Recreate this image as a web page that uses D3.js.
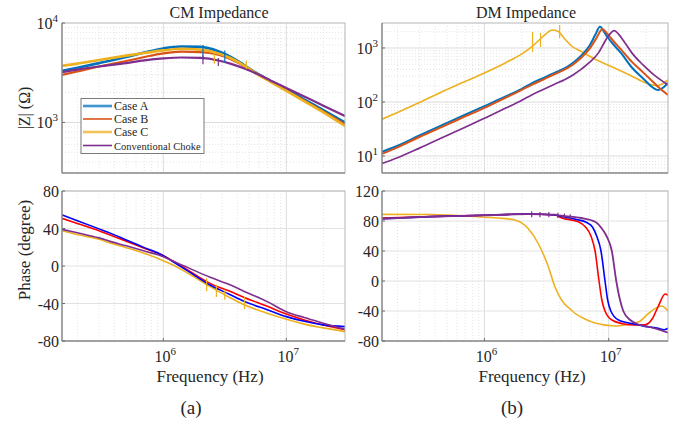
<!DOCTYPE html>
<html>
<head>
<meta charset="utf-8">
<script src="https://cdn.jsdelivr.net/npm/d3@7"></script>
<style>
body { margin: 0; background: #fff; }
svg text { fill: #262626; }
</style>
</head>
<body>
<svg id="chart" width="686" height="424" font-family="'Liberation Serif', Tinos, 'Times New Roman', 'DejaVu Serif', serif"></svg>
<script>
// ---- data ----
var seriesNames = ["Case A", "Case B", "Case C", "Conventional Choke"];

// CM impedance magnitude (ohm)
var cmFreq = [1.5e5, 2e5, 3e5, 5e5, 7e5, 1e6, 1.4e6, 2e6, 2.8e6, 3.5e6, 4.5e6, 5.7e6, 7.5e6, 1e7, 1.4e7, 2e7, 3e7];
var cmZA = [3300, 3550, 3950, 4550, 5050, 5550, 5800, 5750, 5200, 4600, 3800, 3150, 2600, 2150, 1700, 1330, 1000];
var cmZB = [3000, 3250, 3650, 4150, 4550, 4950, 5150, 5100, 4800, 4350, 3700, 3100, 2570, 2100, 1660, 1290, 960];
var cmZC = [3700, 3900, 4250, 4700, 5000, 5300, 5500, 5400, 4950, 4450, 3750, 3100, 2550, 2080, 1630, 1260, 920];
var cmZConv = [3200, 3400, 3650, 3950, 4200, 4400, 4500, 4450, 4200, 3900, 3500, 3100, 2630, 2220, 1820, 1475, 1160];
// measurement noise spikes (freq, low, high)
var cmSpkAFreq = [2.1e6, 3.16e6], cmSpkALo = [4300, 4000], cmSpkAHi = [6000, 5300];
var cmSpkCFreq = [2.6e6, 4.73e6], cmSpkCLo = [3900, 3450], cmSpkCHi = [5100, 4200];
var cmSpkConvFreq = [2.1e6, 2.8e6], cmSpkConvLo = [3850, 3700], cmSpkConvHi = [4750, 4450];

// CM phase (degree)
var cmPhFreq = [1.5e5, 2e5, 3e5, 3.74e5, 5e5, 7e5, 1e6, 1.2e6, 1.6e6, 2.4e6, 3.4e6, 4.6e6, 7e6, 1e7, 1.4e7, 2e7, 3e7];
var cmPA = [54.4, 48.3, 39.6, 34.8, 27.7, 19.6, 11, 4.5, -5.7, -20.3, -29.8, -38, -46.6, -54, -59, -62.8, -64.7];
var cmPB = [50.9, 45.3, 37.5, 32.7, 26.5, 19, 11, 5.3, -4.7, -18.5, -26.5, -33.8, -43, -51.2, -57.5, -63, -68];
var cmPC = [37.7, 33.5, 28.5, 24.2, 19.5, 13.5, 5.7, 1, -8, -22, -33, -41.6, -50.5, -56.9, -62, -66, -70];
var cmPConv = [39.1, 35.5, 30, 26, 21.5, 16, 9.9, 5, -2, -12, -19.5, -27.4, -38, -48.7, -55, -61, -67.6];
var cmPhSpkCFreq = [2.25e6, 2.7e6, 3.16e6, 4.57e6], cmPhSpkCLo = [-27, -33, -36, -46], cmPhSpkCHi = [-13, -20, -25, -33];

// DM impedance magnitude (ohm)
var dmFreqA = [1.5e5, 2e5, 3e5, 5e5, 7e5, 1e6, 1.5e6, 2e6, 2.4e6, 3e6, 3.7e6, 4.45e6, 5.2e6, 6e6, 7e6, 7.8e6, 8.5e6, 9.5e6, 1.06e7, 1.25e7, 1.53e7, 1.9e7, 2.2e7, 2.5e7, 2.75e7, 3e7];
var dmZA = [12, 15.5, 24, 41, 58, 84, 128, 175, 222, 280, 350, 425, 540, 720, 1100, 1750, 2480, 1750, 1250, 820, 440, 270, 195, 167, 185, 228];
var dmFreqB = [1.5e5, 2e5, 3e5, 5e5, 7e5, 1e6, 1.5e6, 2e6, 2.4e6, 3e6, 3.7e6, 4.45e6, 5.2e6, 6e6, 7e6, 8e6, 8.9e6, 9.6e6, 1.06e7, 1.25e7, 1.53e7, 1.9e7, 2.3e7, 2.6e7, 3e7];
var dmZB = [11, 14.5, 22.5, 38, 54, 78, 122, 168, 208, 262, 330, 400, 500, 660, 960, 1550, 2250, 1900, 1450, 950, 560, 350, 230, 175, 135];
var dmFreqC = [1.5e5, 2e5, 3e5, 5e5, 7e5, 1e6, 1.5e6, 2e6, 2.4e6, 2.8e6, 3.2e6, 3.5e6, 3.9e6, 4.45e6, 5e6, 6.05e6, 8e6, 1.06e7, 1.5e7, 2e7, 2.44e7, 2.7e7, 3e7];
var dmZC = [48, 64, 98, 170, 240, 345, 540, 780, 1050, 1450, 1900, 2150, 2050, 1450, 1100, 855, 600, 450, 310, 225, 200, 215, 256];
var dmFreqConv = [1.5e5, 2e5, 3e5, 5e5, 7e5, 1e6, 1.5e6, 2e6, 2.4e6, 3e6, 3.7e6, 4.45e6, 5.2e6, 6.05e6, 7e6, 8.3e6, 9.2e6, 9.9e6, 1.11e7, 1.2e7, 1.35e7, 1.53e7, 1.9e7, 2.3e7, 2.6e7, 3e7];
var dmZConv = [7.3, 9.3, 14, 24, 34, 50, 78, 108, 135, 172, 215, 262, 320, 410, 540, 820, 1250, 1650, 2100, 1800, 1250, 820, 480, 320, 260, 207];
var dmSpkCFreq = [2.44e6, 2.83e6, 4.03e6], dmSpkCLo = [843, 1040, 1530], dmSpkCHi = [1980, 1900, 2670];

// DM phase (degree)
var dmPFreqA = [1.5e5, 3.74e5, 1e6, 2.25e6, 3.69e6, 4.2e6, 5.5e6, 6.65e6, 7.4e6, 8e6, 8.67e6, 9.34e6, 9.8e6, 1.04e7, 1.2e7, 1.62e7, 2.04e7, 2.5e7, 2.8e7, 3e7];
var dmPA = [83, 85.8, 87.6, 89.3, 88, 86, 82, 78, 72, 60, 40, 0, -25, -40, -52, -57.5, -61, -63, -65, -63];
var dmPFreqB = [1.5e5, 3.74e5, 1e6, 2.25e6, 3.69e6, 4.2e6, 5.7e6, 6.5e6, 7.2e6, 7.77e6, 8.36e6, 8.8e6, 9.34e6, 1.06e7, 1.3e7, 1.6e7, 1.95e7, 2.25e7, 2.5e7, 2.85e7, 3e7];
var dmPB = [84, 86, 87.6, 89.3, 88, 84, 79, 72, 60, 40, 0, -25, -40, -52, -57, -58.7, -58.5, -50, -34, -17.3, -19];
var dmPFreqC = [1.5e5, 3.74e5, 1e6, 1.4e6, 1.76e6, 2.25e6, 2.71e6, 3.27e6, 3.69e6, 4.2e6, 5e6, 5.35e6, 6.5e6, 7.77e6, 1.13e7, 1.5e7, 1.77e7, 2.1e7, 2.67e7, 3e7];
var dmPC = [88.9, 88.7, 85, 83.5, 81.3, 70, 50, 19, -7.6, -26, -38.7, -43, -51, -56, -60, -57, -54, -43, -33.3, -40];
var dmPFreqConv = [1.5e5, 3.74e5, 1e6, 2.25e6, 3.69e6, 4.2e6, 6e6, 7.77e6, 8.8e6, 9.6e6, 1.06e7, 1.15e7, 1.22e7, 1.31e7, 1.49e7, 1.74e7, 2.1e7, 2.5e7, 3e7];
var dmPConv = [83, 85.8, 87.6, 89.3, 88.5, 87, 84, 79, 70, 60, 40, 0, -22, -40, -52, -58, -61, -64.5, -69];
var dmPhSpkConvFreq = [2.4e6, 2.8e6, 3.3e6, 3.9e6, 4.4e6, 4.9e6], dmPhSpkConvLo = [85, 85, 85, 84, 83, 82], dmPhSpkConvHi = [93, 92, 92, 91, 90, 89];

var freqDomain = [1.5e5, 3e7];

// ---- drawing ----
var svg = d3.select("#chart");

function zip(a, b) { return a.map(function(v, i) { return [v, b[i]]; }); }

function logTicks(dom) {
  var out = [];
  for (var e = Math.floor(Math.log10(dom[0])); e <= Math.ceil(Math.log10(dom[1])); e++) {
    for (var k = 1; k < 10; k++) {
      var v = k * Math.pow(10, e);
      if (v > dom[0] * 1.001 && v < dom[1] * 0.999) out.push({v: v, major: k == 1, e: e});
    }
  }
  return out;
}

function powLabel(t, sel, anchor) {
  sel.attr("text-anchor", anchor).style("font-size", "16px");
  sel.append("tspan").text("10");
  sel.append("tspan").attr("dy", -7).style("font-size", "11px").text(t.e);
}

function panel(o) {
  var x = d3.scaleLog().domain(freqDomain).range([o.x0, o.x1]);
  var y = (o.ylog ? d3.scaleLog() : d3.scaleLinear()).domain(o.yDomain).range([o.y1, o.y0]);
  var g = svg.append("g");

  // grid
  var xt = logTicks(freqDomain);
  g.selectAll(".gx").data(xt).enter().append("line")
    .attr("x1", function(d) { return x(d.v); }).attr("x2", function(d) { return x(d.v); })
    .attr("y1", o.y0).attr("y2", o.y1)
    .attr("stroke", function(d) { return d.major ? "#dcdcdc" : "#e4e4e4"; })
    .attr("stroke-dasharray", function(d) { return d.major ? null : "1,2"; });
  var yt;
  if (o.ylog) {
    yt = logTicks(o.yDomain);
    g.selectAll(".gy").data(yt).enter().append("line")
      .attr("x1", o.x0).attr("x2", o.x1)
      .attr("y1", function(d) { return y(d.v); }).attr("y2", function(d) { return y(d.v); })
      .attr("stroke", function(d) { return d.major ? "#dcdcdc" : "#e4e4e4"; })
      .attr("stroke-dasharray", function(d) { return d.major ? null : "1,2"; });
  } else {
    yt = o.yTicks.map(function(v) { return {v: v, major: true}; });
    g.selectAll(".gy").data(yt).enter().append("line")
      .attr("x1", o.x0).attr("x2", o.x1)
      .attr("y1", function(d) { return y(d.v); }).attr("y2", function(d) { return y(d.v); })
      .attr("stroke", "#e2e2e2");
  }

  // curves
  var line = d3.line().x(function(d) { return x(d[0]); }).y(function(d) { return y(d[1]); })
    .curve(d3.curveMonotoneX);
  var clip = "clip" + o.id;
  svg.append("clipPath").attr("id", clip).append("rect")
    .attr("x", o.x0).attr("y", o.y0).attr("width", o.x1 - o.x0).attr("height", o.y1 - o.y0);
  var cg = g.append("g").attr("clip-path", "url(#" + clip + ")");
  o.series.forEach(function(s) {
    cg.append("path").datum(zip(s.f, s.v)).attr("d", line)
      .attr("fill", "none").attr("stroke", s.color).attr("stroke-width", s.w)
      .attr("stroke-linejoin", "round");
  });
  (o.spikes || []).forEach(function(s) {
    cg.selectAll(null).data(s.f).enter().append("line")
      .attr("x1", function(d) { return x(d); }).attr("x2", function(d) { return x(d); })
      .attr("y1", function(d, i) { return y(s.lo[i]); }).attr("y2", function(d, i) { return y(s.hi[i]); })
      .attr("stroke", s.color).attr("stroke-width", 1.2);
  });

  // frame
  g.append("rect").attr("x", o.x0).attr("y", o.y0).attr("width", o.x1 - o.x0).attr("height", o.y1 - o.y0)
    .attr("fill", "none").attr("stroke", "#b5b5b5");
  g.append("line").attr("x1", o.x0).attr("x2", o.x0).attr("y1", o.y0).attr("y2", o.y1).attr("stroke", "#6e6e6e");
  g.append("line").attr("x1", o.x0).attr("x2", o.x1).attr("y1", o.y1).attr("y2", o.y1).attr("stroke", "#6e6e6e");

  // y tick labels
  var ymaj;
  if (o.ylog) {
    ymaj = o.yLabels.map(function(e) { return {v: Math.pow(10, e), e: e}; });
    g.selectAll(".yl").data(ymaj).enter().append("text")
      .attr("x", o.x0 - 4).attr("y", function(d) { return y(d.v) + 6; })
      .each(function(d) { powLabel(d, d3.select(this), "end"); });
  } else {
    ymaj = o.yTicks.map(function(v) { return {v: v}; });
    g.selectAll(".yl").data(o.yTicks).enter().append("text")
      .attr("x", o.x0 - 3).attr("y", function(d) { return y(d) + 6; })
      .attr("text-anchor", "end").style("font-size", "16px")
      .text(function(d) { return d; });
  }
  g.selectAll(".ytk").data(ymaj).enter().append("line")
    .attr("x1", o.x0).attr("x2", o.x0 + 3)
    .attr("y1", function(d) { return y(d.v); }).attr("y2", function(d) { return y(d.v); })
    .attr("stroke", "#6e6e6e");

  if (o.xLabels) {
    var xmaj = xt.filter(function(d) { return d.major; });
    g.selectAll(".xl").data(xmaj).enter().append("text")
      .attr("x", function(d) { return x(d.v) + 2; }).attr("y", o.y1 + 21)
      .each(function(d) { powLabel(d, d3.select(this), "middle"); });
    g.selectAll(".xtk").data(xmaj).enter().append("line")
      .attr("x1", function(d) { return x(d.v); }).attr("x2", function(d) { return x(d.v); })
      .attr("y1", o.y1).attr("y2", o.y1 - 3).attr("stroke", "#6e6e6e");
  }
  return {x: x, y: y};
}

var cA = "#0072BD", cB = "#D95319", cC = "#EDB120", cD = "#7E2F8E";

panel({id: "cmz", x0: 62, x1: 345, y0: 23, y1: 173, ylog: true, yDomain: [310, 1e4], yLabels: [3, 4],
  series: [
    {f: cmFreq, v: cmZA, color: cA, w: 2.6},
    {f: cmFreq, v: cmZB, color: cB, w: 2.2},
    {f: cmFreq, v: cmZC, color: cC, w: 2.6},
    {f: cmFreq, v: cmZConv, color: cD, w: 2.2}
  ],
  spikes: [
    {f: cmSpkAFreq, lo: cmSpkALo, hi: cmSpkAHi, color: cA},
    {f: cmSpkCFreq, lo: cmSpkCLo, hi: cmSpkCHi, color: cC},
    {f: cmSpkConvFreq, lo: cmSpkConvLo, hi: cmSpkConvHi, color: cD}
  ]});

panel({id: "dmz", x0: 382, x1: 668, y0: 23, y1: 173, ylog: true, yDomain: [4.85, 2900], yLabels: [1, 2, 3],
  series: [
    {f: dmFreqC, v: dmZC, color: cC, w: 1.6},
    {f: dmFreqA, v: dmZA, color: cA, w: 2},
    {f: dmFreqB, v: dmZB, color: cB, w: 2},
    {f: dmFreqConv, v: dmZConv, color: cD, w: 1.7}
  ],
  spikes: [{f: dmSpkCFreq, lo: dmSpkCLo, hi: dmSpkCHi, color: cC}]});

panel({id: "cmp", x0: 62, x1: 345, y0: 191, y1: 341, ylog: false, yDomain: [-80, 80], yTicks: [-80, -40, 0, 40, 80], xLabels: true,
  series: [
    {f: cmPhFreq, v: cmPC, color: cC, w: 1.6},
    {f: cmPhFreq, v: cmPB, color: "#FF0000", w: 1.6},
    {f: cmPhFreq, v: cmPA, color: "#0000FF", w: 1.6},
    {f: cmPhFreq, v: cmPConv, color: cD, w: 1.6}
  ],
  spikes: [{f: cmPhSpkCFreq, lo: cmPhSpkCLo, hi: cmPhSpkCHi, color: cC}]});

panel({id: "dmp", x0: 382, x1: 668, y0: 191, y1: 341, ylog: false, yDomain: [-80, 120], yTicks: [-80, -40, 0, 40, 80, 120], xLabels: true,
  series: [
    {f: dmPFreqC, v: dmPC, color: cC, w: 1.6},
    {f: dmPFreqB, v: dmPB, color: "#FF0000", w: 1.6},
    {f: dmPFreqA, v: dmPA, color: "#0000FF", w: 1.6},
    {f: dmPFreqConv, v: dmPConv, color: cD, w: 1.8}
  ],
  spikes: [{f: dmPhSpkConvFreq, lo: dmPhSpkConvLo, hi: dmPhSpkConvHi, color: cD}]});

// titles and labels
svg.append("text").attr("x", 219).attr("y", 18).attr("text-anchor", "middle").style("font-size", "16px").text("CM Impedance");
svg.append("text").attr("x", 526).attr("y", 18).attr("text-anchor", "middle").style("font-size", "16px").text("DM Impedance");
svg.append("text").attr("transform", "translate(30,108) rotate(-90)").attr("text-anchor", "middle").style("font-size", "16px").text("|Z| (\u03A9)");
svg.append("text").attr("transform", "translate(30,250) rotate(-90)").attr("text-anchor", "middle").style("font-size", "17px").text("Phase (degree)");
svg.append("text").attr("x", 210).attr("y", 382).attr("text-anchor", "middle").style("font-size", "17px").text("Frequency (Hz)");
svg.append("text").attr("x", 532).attr("y", 382).attr("text-anchor", "middle").style("font-size", "17px").text("Frequency (Hz)");
svg.append("text").attr("x", 191).attr("y", 414).attr("text-anchor", "middle").style("font-size", "19px").text("(a)");
svg.append("text").attr("x", 512).attr("y", 414).attr("text-anchor", "middle").style("font-size", "19px").text("(b)");

// legend
var legColors = [cA, cB, cC, cD], legW = [2.6, 1.6, 2.6, 1.6], legY = [106, 119, 132, 145.5], legSize = [12, 12, 12, 10.5];
var leg = svg.append("g");
leg.append("rect").attr("x", 81).attr("y", 98.5).attr("width", 123).attr("height", 55)
  .attr("fill", "#fff").attr("stroke", "#7a7a7a");
seriesNames.forEach(function(n, i) {
  leg.append("line").attr("x1", 83).attr("x2", 112).attr("y1", legY[i]).attr("y2", legY[i])
    .attr("stroke", legColors[i]).attr("stroke-width", legW[i]).attr("opacity", i == 0 || i == 2 ? 0.75 : 1);
  leg.append("text").attr("x", 114).attr("y", legY[i] + 4).style("font-size", legSize[i] + "px").text(n);
});
</script>
</body>
</html>
